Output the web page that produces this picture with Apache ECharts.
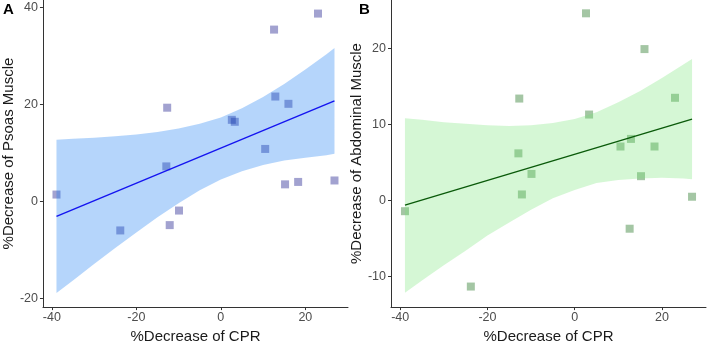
<!DOCTYPE html>
<html>
<head>
<meta charset="utf-8">
<script src="https://cdn.jsdelivr.net/npm/echarts@6/dist/echarts.min.js"></script>
<style>
html,body{margin:0;padding:0;background:#fff;}
#chart{width:707px;height:349px;}
</style>
</head>
<body>
<div id="chart"></div>
<script>
// ---- data ----
var cpr = [-38.9, -23.8, -12.9, -12.7, -12.1, -9.9, 2.6, 3.3, 10.5, 12.6, 12.9, 15.2, 16.0, 18.3, 23.0, 26.9];
var psoas = [1.4, -6.0, 7.2, 19.3, -4.9, -1.9, 16.8, 16.4, 10.8, 35.4, 21.6, 3.5, 20.1, 4.0, 38.7, 4.3];
var abdominal = [-1.4, -11.3, 6.2, 13.4, 0.8, 3.5, 24.6, 11.3, 7.1, -3.7, 8.1, 3.2, 19.9, 7.1, 13.5, 0.5];

var fitX = [-38.9, 26.9];
var fitPsoas = [-3.1, 20.7];
var fitAbdominal = [-0.6, 10.7];

var bandX = [-38.9, -35, -30, -25, -20, -15, -10, -5, 0, 5, 10, 15, 20, 25, 26.9];
var bandPsoasUpper = [12.7, 12.9, 13.1, 13.4, 13.8, 14.3, 15.0, 16.0, 17.3, 19.2, 21.5, 24.2, 27.2, 30.3, 31.6];
var bandPsoasLower = [-18.9, -16.3, -12.9, -9.6, -6.4, -3.3, -0.4, 2.3, 4.5, 6.2, 7.5, 8.4, 9.0, 9.5, 9.8];
var bandAbdUpper = [10.8, 10.6, 10.3, 10.1, 9.9, 9.8, 9.9, 10.2, 10.7, 11.6, 12.9, 14.4, 16.1, 17.9, 18.6];
var bandAbdLower = [-12.1, -10.5, -8.5, -6.6, -4.6, -2.9, -1.2, 0.3, 1.4, 2.3, 2.7, 2.9, 3.0, 2.9, 2.8];

var xTicks = [-40, -20, 0, 20];
var yTicksA = [-20, 0, 20, 40];
var yTicksB = [-10, 0, 10, 20];

var xTitle = '%Decrease of CPR';
var yTitleA = '%Decrease of Psoas Muscle';
var yTitleB = '%Decrease of Abdominal Muscle';

// ---- build ----
function pairs(xs, ys){ return xs.map(function(x,i){ return [x, ys[i]]; }); }

function bandSeries(gi, upper, lower, color){
  return {
    type: 'custom', xAxisIndex: gi, yAxisIndex: gi, z: 3, silent: true,
    data: bandX.map(function(x,i){ return [x, upper[i], lower[i]]; }),
    renderItem: function(params, api){
      if (params.dataIndex !== 0) return null;
      var pts = [];
      for (var i = 0; i < bandX.length; i++) pts.push(api.coord([bandX[i], upper[i]]));
      for (var j = bandX.length - 1; j >= 0; j--) pts.push(api.coord([bandX[j], lower[j]]));
      return { type: 'polygon', shape: { points: pts }, style: { fill: color, stroke: null } };
    }
  };
}

var font = 'Liberation Sans, Arial, sans-serif';

function xAxisCfg(gi){
  return {
    type: 'value', gridIndex: gi, min: -42.1, max: 30.1,
    name: xTitle, nameLocation: 'middle', nameGap: 16,
    nameTextStyle: { fontFamily: font, fontSize: 15, color: '#1a1a1a' },
    splitLine: { show: false },
    axisLine: { show: true, onZero: false, lineStyle: { color: '#333', width: 1 } },
    axisTick: { show: true, length: 3, customValues: xTicks, lineStyle: { color: '#333' } },
    axisLabel: { customValues: xTicks, margin: 4, fontFamily: font, fontSize: 12.5, color: '#4d4d4d' }
  };
}
function yAxisCfg(gi, min, max, ticks, title, gap){
  return {
    type: 'value', gridIndex: gi, min: min, max: max,
    name: title, nameLocation: 'middle', nameGap: gap,
    nameTextStyle: { fontFamily: font, fontSize: 15, color: '#1a1a1a' },
    splitLine: { show: false },
    axisLine: { show: true, onZero: false, lineStyle: { color: '#333', width: 1 } },
    axisTick: { show: true, length: 3, customValues: ticks, lineStyle: { color: '#333' } },
    axisLabel: { customValues: ticks, margin: 5, fontFamily: font, fontSize: 12.5, color: '#4d4d4d' }
  };
}

var chart = echarts.init(document.getElementById('chart'), null, { renderer: 'canvas' });
chart.setOption({
  animation: false,
  backgroundColor: '#fff',
  grid: [
    { left: 35, top: 0, width: 313, height: 321 },
    { left: 391, top: 0, width: 315, height: 321 }
  ],
  xAxis: [xAxisCfg(0), xAxisCfg(1)],
  yAxis: [
    yAxisCfg(0, -21.8, 41.5, yTicksA, yTitleA, 21),
    yAxisCfg(1, -14.0, 26.35, yTicksB, yTitleB, 22)
  ],
  graphic: [
    { type: 'text', left: 3, top: 2, style: { text: 'A', font: 'bold 15px ' + font, fill: '#000' } },
    { type: 'text', left: 359, top: 2, style: { text: 'B', font: 'bold 15px ' + font, fill: '#000' } }
  ],
  series: [
    { type: 'scatter', xAxisIndex: 0, yAxisIndex: 0, z: 2, symbol: 'rect', symbolSize: 8,
      itemStyle: { color: 'rgba(22,22,137,0.5)' }, data: pairs(cpr, psoas) },
    bandSeries(0, bandPsoasUpper, bandPsoasLower, 'rgba(10,115,242,0.3)'),
    { type: 'line', xAxisIndex: 0, yAxisIndex: 0, z: 4, symbol: 'none',
      lineStyle: { color: '#1414f0', width: 1.4 }, data: pairs(fitX, fitPsoas) },

    { type: 'scatter', xAxisIndex: 1, yAxisIndex: 1, z: 2, symbol: 'rect', symbolSize: 8,
      itemStyle: { color: 'rgba(27,113,27,0.5)' }, data: pairs(cpr, abdominal) },
    bandSeries(1, bandAbdUpper, bandAbdLower, 'rgba(115,228,115,0.3)'),
    { type: 'line', xAxisIndex: 1, yAxisIndex: 1, z: 4, symbol: 'none',
      lineStyle: { color: '#0a5a0a', width: 1.4 }, data: pairs(fitX, fitAbdominal) }
  ]
});
</script>
</body>
</html>
